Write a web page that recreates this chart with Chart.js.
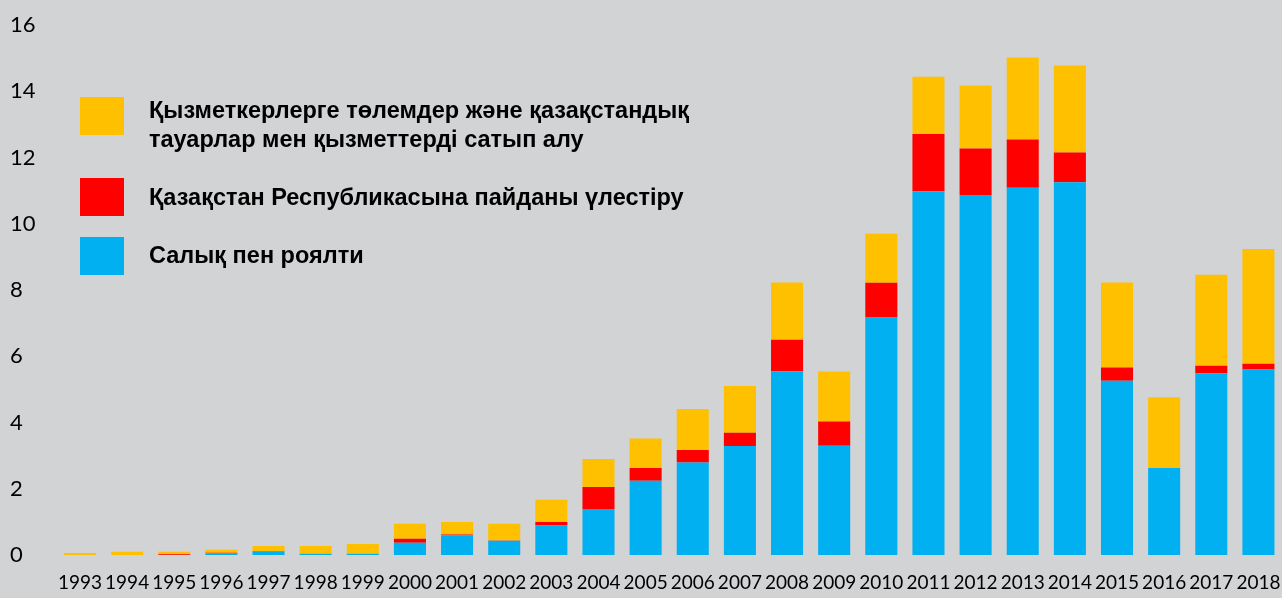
<!DOCTYPE html>
<html>
<head>
<meta charset="utf-8">
<script src="https://cdn.jsdelivr.net/npm/chart.js@4"></script>
<style>
    html, body { margin: 0; padding: 0; background: #d2d3d5; }
    #wrap { position: relative; width: 1282px; height: 598px; }
    #legend { position: absolute; left: 80px; top: 97px; font-family: "Liberation Sans", Arial, sans-serif; font-weight: bold; font-size: 23.5px; color: #000; }
    .swatch { position: absolute; left: 0; width: 44px; height: 38px; }
    .label { position: absolute; left: 69px; line-height: 29px; white-space: nowrap; }
</style>
</head>
<body>
<div id="wrap">
    <canvas id="chart" width="1282" height="598"></canvas>
    <div id="legend"></div>
</div>
<script>
// Years on the x axis
const years = ['1993', '1994', '1995', '1996', '1997', '1998', '1999', '2000', '2001', '2002', '2003', '2004', '2005',
    '2006', '2007', '2008', '2009', '2010', '2011', '2012', '2013', '2014', '2015', '2016', '2017', '2018'];

// Салық пен роялти
const taxes = [0, 0, 0, 0.05, 0.11, 0.04, 0.04, 0.37, 0.6, 0.43, 0.89, 1.39, 2.24,
    2.79, 3.29, 5.55, 3.3, 7.17, 10.98, 10.87, 11.09, 11.25, 5.26, 2.63, 5.49, 5.6];

// Қазақстан Республикасына пайданы үлестіру
const profit = [0, 0, 0.02, 0.02, 0.01, 0, 0, 0.12, 0.02, 0.01, 0.11, 0.66, 0.39,
    0.38, 0.4, 0.95, 0.73, 1.05, 1.73, 1.4, 1.45, 0.9, 0.4, 0, 0.22, 0.17];

// Қызметкерлерге төлемдер және қазақстандық тауарлар мен қызметтерді сатып алу
const local = [0.06, 0.1, 0.08, 0.09, 0.15, 0.23, 0.29, 0.45, 0.38, 0.5, 0.67, 0.85, 0.89,
    1.24, 1.41, 1.73, 1.51, 1.48, 1.73, 1.9, 2.48, 2.63, 2.57, 2.13, 2.75, 3.47];

const yTicks = [0, 2, 4, 6, 8, 10, 12, 14, 16];

const seriesNames = [
    'Қызметкерлерге төлемдер және қазақстандық\nтауарлар мен қызметтерді сатып алу',
    'Қазақстан Республикасына пайданы үлестіру',
    'Салық пен роялти'
];
const colors = {
    yellow: '#FFC000',
    red: '#FF0000',
    blue: '#00B0F0'
};

function buildLegend() {
    const legend = document.getElementById('legend');
    const items = [
        { name: seriesNames[0], color: colors.yellow, top: 0, textTop: -1.5 },
        { name: seriesNames[1], color: colors.red, top: 81, textTop: 86 },
        { name: seriesNames[2], color: colors.blue, top: 140, textTop: 143.5 }
    ];
    items.forEach(it => {
        const sw = document.createElement('div');
        sw.className = 'swatch';
        sw.style.top = it.top + 'px';
        sw.style.background = it.color;
        legend.appendChild(sw);
        const lb = document.createElement('div');
        lb.className = 'label';
        lb.style.top = it.textTop + 'px';
        lb.innerHTML = it.name.replace('\n', '<br>');
        legend.appendChild(lb);
    });
}

function createChart() {
    const ctx = document.getElementById('chart');
    new Chart(ctx, {
        type: 'bar',
        data: {
            labels: years,
            datasets: [
                { label: seriesNames[2], data: taxes, backgroundColor: colors.blue },
                { label: seriesNames[1], data: profit, backgroundColor: colors.red },
                { label: seriesNames[0], data: local, backgroundColor: colors.yellow }
            ]
        },
        options: {
            responsive: false,
            animation: false,
            layout: { padding: { left: 10, top: 25, right: 0, bottom: 0 } },
            datasets: {
                bar: { barPercentage: 0.68, categoryPercentage: 1, borderWidth: 0 }
            },
            plugins: {
                legend: { display: false },
                tooltip: { enabled: false }
            },
            scales: {
                x: {
                    stacked: true,
                    afterFit: function(scale) {
                        scale.height = 43;
                        scale.paddingLeft = 0;
                        scale.paddingRight = 0;
                    },
                    grid: { display: false, drawTicks: false },
                    border: { display: false },
                    ticks: {
                        autoSkip: false,
                        maxRotation: 0,
                        padding: 16,
                        color: '#000',
                        font: { family: 'Lato', size: 19 }
                    }
                },
                y: {
                    stacked: true,
                    min: 0,
                    max: 16,
                    afterBuildTicks: function(scale) {
                        scale.ticks = yTicks.map(v => ({ value: v }));
                    },
                    afterFit: function(scale) {
                        scale.width = 46.4;
                        scale.paddingTop = 0;
                        scale.paddingBottom = 0;
                    },
                    grid: { display: false, drawTicks: false },
                    border: { display: false },
                    ticks: {
                        crossAlign: 'far',
                        padding: 0,
                        color: '#000',
                        font: { family: 'Lato', size: 22 }
                    }
                }
            }
        }
    });
}

buildLegend();
createChart();
</script>
</body>
</html>
